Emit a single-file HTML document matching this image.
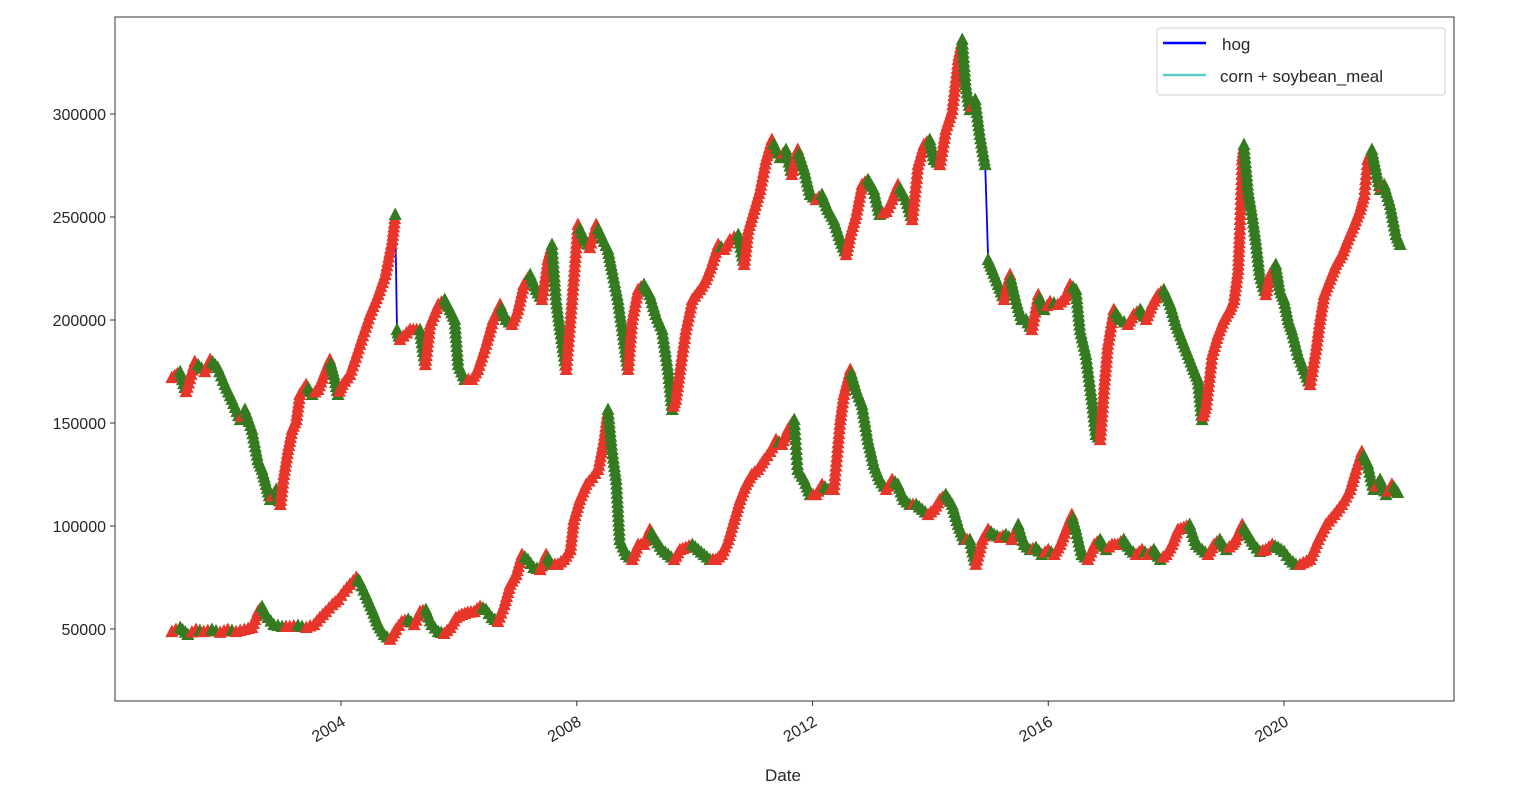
<!DOCTYPE html>
<html><head><meta charset="utf-8"><style>
html,body{margin:0;padding:0;background:#fff;}
svg text{font-family:"Liberation Sans","DejaVu Sans",sans-serif;fill:#262626;}
</style></head><body>
<svg id="chart" width="1530" height="788" xmlns="http://www.w3.org/2000/svg">
<rect x="115" y="17" width="1339" height="684" fill="#fff" stroke="#333" stroke-width="1"/>
<g id="yticks"></g>
<g id="xticks"></g>
<g id="series"></g>
<text x="783" y="781" font-size="17" text-anchor="middle">Date</text>
<g>
<rect x="1157" y="28" width="288" height="67" rx="3" fill="#fff" stroke="#d0d0d0"/>
<line x1="1163" y1="43" x2="1206" y2="43" stroke="#0000ff" stroke-width="2.5"/>
<text x="1222" y="50" font-size="17">hog</text>
<line x1="1163" y1="75" x2="1206" y2="75" stroke="#5ecbcb" stroke-width="2.5"/>
<text x="1220" y="82" font-size="17">corn + soybean_meal</text>
</g>
</svg>
<script>
const yTicks=[50000,100000,150000,200000,250000,300000];
const xTicks=[2004,2008,2012,2016,2020];
const hogDates=[2001.13,2001.27,2001.37,2001.52,2001.69,2001.78,2001.91,2002.03,2002.15,2002.29,2002.37,2002.49,2002.59,2002.66,2002.73,2002.80,2002.90,2002.97,2003.03,2003.10,2003.17,2003.24,2003.30,2003.41,2003.51,2003.61,2003.71,2003.81,2003.88,2003.95,2004.02,2004.15,2004.32,2004.49,2004.63,2004.75,2004.87,2004.92,2004.95,2005.00,2005.17,2005.34,2005.43,2005.51,2005.65,2005.76,2005.85,2005.93,2005.99,2006.10,2006.22,2006.32,2006.46,2006.58,2006.70,2006.80,2006.90,2007.00,2007.10,2007.21,2007.31,2007.41,2007.51,2007.58,2007.65,2007.72,2007.82,2007.92,2008.02,2008.12,2008.22,2008.33,2008.43,2008.53,2008.60,2008.70,2008.80,2008.87,2008.94,2009.04,2009.14,2009.24,2009.34,2009.45,2009.55,2009.62,2009.68,2009.75,2009.85,2009.96,2010.09,2010.19,2010.29,2010.40,2010.50,2010.60,2010.74,2010.84,2010.91,2011.01,2011.11,2011.21,2011.31,2011.45,2011.55,2011.65,2011.75,2011.86,2011.96,2012.06,2012.16,2012.26,2012.36,2012.47,2012.57,2012.64,2012.74,2012.84,2012.94,2013.04,2013.14,2013.25,2013.35,2013.45,2013.59,2013.69,2013.79,2013.89,2013.99,2014.06,2014.16,2014.26,2014.37,2014.47,2014.54,2014.60,2014.67,2014.76,2014.84,2014.93,2014.98,2015.05,2015.15,2015.25,2015.35,2015.45,2015.55,2015.62,2015.72,2015.83,2015.93,2016.03,2016.16,2016.27,2016.37,2016.47,2016.54,2016.64,2016.74,2016.81,2016.88,2016.95,2017.01,2017.11,2017.22,2017.35,2017.45,2017.56,2017.66,2017.76,2017.86,2017.96,2018.07,2018.17,2018.27,2018.37,2018.47,2018.54,2018.61,2018.68,2018.78,2018.88,2018.98,2019.08,2019.15,2019.22,2019.25,2019.29,2019.32,2019.39,2019.46,2019.52,2019.59,2019.69,2019.76,2019.86,2019.93,2020.00,2020.07,2020.13,2020.24,2020.34,2020.44,2020.54,2020.61,2020.68,2020.78,2020.88,2020.98,2021.08,2021.19,2021.29,2021.36,2021.42,2021.49,2021.56,2021.63,2021.70,2021.80,2021.90,2021.97];
const hogValues=[171.8,174.7,165.0,179.6,174.7,180.6,176.7,168.4,161.2,151.4,156.3,146.6,132.0,127.2,119.9,112.6,117.5,110.2,124.7,136.9,146.6,151.4,163.6,168.4,163.6,166.0,173.3,180.6,173.3,163.6,168.4,173.3,187.9,202.4,212.1,221.8,238.8,251.0,195.1,190.3,195.1,195.1,178.1,197.6,207.3,209.7,204.8,200.0,178.1,170.9,170.9,175.7,187.9,200.0,207.3,200.0,197.6,204.8,217.0,221.8,214.5,209.7,229.1,236.4,209.7,195.1,175.7,209.7,246.1,239.8,234.9,246.1,239.8,234.0,224.3,209.7,190.3,175.7,200.0,214.5,217.0,212.1,202.4,195.1,175.7,156.3,161.2,175.7,195.1,209.7,214.5,219.4,226.7,236.4,234.0,238.8,241.2,226.7,243.7,253.4,263.1,277.6,287.4,278.6,282.5,270.4,282.5,272.8,260.7,258.2,260.7,253.4,248.5,238.8,231.5,241.2,251.0,265.5,267.9,263.1,251.0,252.4,258.2,265.5,258.2,248.5,275.2,284.9,287.4,277.6,275.2,292.2,301.9,326.2,335.9,314.1,301.9,306.8,289.8,275.2,229.1,224.3,217.0,209.7,221.8,209.7,200.0,200.0,195.1,212.1,204.8,208.7,207.3,209.7,217.0,214.5,195.1,183.0,161.2,144.2,141.7,168.4,187.9,204.8,200.0,197.6,202.4,204.8,200.0,207.3,212.1,214.5,207.3,197.6,190.3,183.0,175.7,170.9,151.4,158.7,183.0,192.7,200.0,204.8,209.7,224.3,243.7,277.6,284.9,263.1,251.0,238.8,221.8,212.1,221.8,226.7,214.5,209.7,200.0,195.1,183.0,175.7,168.4,185.4,200.0,212.1,219.4,226.7,231.5,238.8,246.1,253.4,260.7,277.6,282.5,272.8,263.1,265.5,255.8,241.2,236.4];
const feedDates=[2001.13,2001.27,2001.40,2001.54,2001.67,2001.81,2001.95,2002.08,2002.22,2002.36,2002.49,2002.59,2002.66,2002.76,2002.86,2003.00,2003.13,2003.27,2003.41,2003.54,2003.64,2003.74,2003.85,2003.95,2004.05,2004.15,2004.26,2004.32,2004.42,2004.53,2004.63,2004.73,2004.83,2004.93,2005.03,2005.14,2005.24,2005.34,2005.44,2005.54,2005.65,2005.75,2005.85,2005.95,2006.05,2006.15,2006.26,2006.36,2006.46,2006.56,2006.66,2006.77,2006.87,2006.97,2007.07,2007.17,2007.27,2007.38,2007.48,2007.58,2007.68,2007.78,2007.89,2007.95,2008.05,2008.16,2008.26,2008.36,2008.46,2008.53,2008.60,2008.67,2008.73,2008.84,2008.94,2009.04,2009.14,2009.24,2009.34,2009.45,2009.55,2009.65,2009.75,2009.85,2009.96,2010.06,2010.16,2010.26,2010.36,2010.46,2010.57,2010.67,2010.77,2010.87,2010.97,2011.07,2011.18,2011.28,2011.38,2011.48,2011.58,2011.69,2011.75,2011.86,2011.96,2012.06,2012.16,2012.26,2012.36,2012.47,2012.53,2012.64,2012.74,2012.84,2012.94,2013.04,2013.14,2013.25,2013.35,2013.45,2013.55,2013.65,2013.76,2013.86,2013.96,2014.06,2014.16,2014.26,2014.37,2014.47,2014.57,2014.67,2014.77,2014.88,2014.98,2015.08,2015.18,2015.28,2015.38,2015.49,2015.59,2015.69,2015.79,2015.89,2016.00,2016.10,2016.20,2016.30,2016.40,2016.47,2016.57,2016.67,2016.78,2016.88,2016.98,2017.08,2017.18,2017.28,2017.39,2017.49,2017.59,2017.69,2017.79,2017.90,2018.00,2018.10,2018.20,2018.30,2018.40,2018.51,2018.61,2018.71,2018.81,2018.91,2019.02,2019.12,2019.18,2019.29,2019.39,2019.49,2019.59,2019.69,2019.80,2019.90,2020.00,2020.10,2020.20,2020.27,2020.44,2020.58,2020.71,2020.85,2020.98,2021.12,2021.22,2021.32,2021.42,2021.52,2021.63,2021.73,2021.83,2021.93];
const feedValues=[48.5,50.5,47.1,49.5,48.5,49.5,48.1,49.5,48.5,49.5,50.5,58.2,60.7,55.3,51.9,51.0,51.0,51.5,50.5,51.9,55.3,58.2,61.6,64.1,68.0,71.4,74.8,72.8,66.5,59.2,51.9,47.1,44.7,49.5,53.4,54.4,51.9,58.2,59.2,51.9,48.5,47.6,50.5,55.3,56.8,57.8,58.2,60.7,59.2,55.3,53.4,61.6,71.4,76.2,85.9,83.5,79.6,78.6,85.9,81.1,81.1,83.5,88.3,102.9,112.6,119.9,123.3,127.2,141.7,156.3,136.9,122.3,93.2,85.9,83.5,90.8,90.8,98.1,93.2,88.3,85.9,83.5,88.3,89.3,90.8,88.3,85.9,83.5,83.5,85.9,93.2,102.9,112.6,119.9,124.7,127.2,132.0,135.9,141.7,139.3,146.6,151.4,127.2,122.3,115.0,115.0,119.9,117.5,117.5,151.4,163.6,175.7,166.0,158.7,141.7,129.6,122.3,117.5,122.3,119.9,112.6,110.2,110.2,107.8,105.3,107.8,112.6,115.0,110.2,100.5,93.2,93.2,81.1,93.2,98.1,95.6,94.2,95.6,93.2,100.5,90.8,88.3,89.3,85.9,88.3,85.9,90.8,98.1,105.3,98.1,85.9,83.5,90.8,93.2,88.3,90.8,90.8,93.2,88.3,85.9,88.3,85.9,88.3,83.5,85.9,90.8,98.1,99.0,100.5,90.8,88.3,85.9,90.8,93.2,88.3,90.8,93.2,100.5,95.6,90.8,87.4,88.3,90.8,89.3,87.4,83.5,81.1,81.1,83.5,93.2,100.5,105.3,110.2,117.5,127.2,135.9,130.0,117.5,122.3,115.0,120.0,116.0];

const NS='http://www.w3.org/2000/svg';
const L=115,R=1454,T=17,B=701;
function xs(yr){return 341+(yr-2004)*58.94;}
function ys(v){return 732-v/50000*103;}
function mk(tag,attrs,parent){const e=document.createElementNS(NS,tag);for(const k in attrs)e.setAttribute(k,attrs[k]);parent.appendChild(e);return e;}
const yg=document.getElementById('yticks');
yTicks.forEach(v=>{
  const y=ys(v);
  const tl=mk('line',{x1:L-5,x2:L,y1:y,y2:y,stroke:'#333'},yg);
  
  
  const t=mk('text',{x:L-9,y:y+6,'font-size':'16','text-anchor':'end'},yg);
  
  
  t.textContent=v;
});
const xg=document.getElementById('xticks');
xTicks.forEach(yr=>{
  const x=xs(yr);
  const tl=mk('line',{x1:x,x2:x,y1:B,y2:B+5,stroke:'#333'},xg);
  
  
  const t=mk('text',{x:x,y:B+14,'font-size':'16','text-anchor':'end',transform:`rotate(-30 ${x} ${B+14})`,dy:'0.7em'},xg);
  
  
  t.textContent=yr;
});
const sg=document.getElementById('series');
function drawLine(dates,vals,color,name){
  const d=dates.map((yr,i)=>(i?'L':'M')+xs(yr).toFixed(1)+','+ys(vals[i]*1000).toFixed(1)).join('');
  const p=mk('path',{d:d,fill:'none',stroke:color,'stroke-width':'1.8'},sg);
  
  
}
function tri(x,y,col,name){
  const t=mk('polygon',{points:`${x},${y-7.5} ${x-6.5},${y+5} ${x+6.5},${y+5}`,fill:col},sg);
  
  
}
function drawMarkers(dates,vals,name){
  const n=vals.length;
  for(let i=0;i<n;i++){
    const prev=vals[Math.max(0,i-1)],next=vals[Math.min(n-1,i+1)];
    const col=next>=prev?'#e8352a':'#357a20';
    const x=xs(dates[i]),y=ys(vals[i]*1000);
    tri(x,y,col,name);
    if(i<n-1){
      const x2=xs(dates[i+1]),y2=ys(vals[i+1]*1000);
      const rising=vals[i+1]>=vals[i];
      const segCol=rising?'#e8352a':'#357a20';
      const steps=Math.max(1,Math.ceil(Math.hypot(x2-x,y2-y)/5));
      if(rising||Math.abs(y2-y)<60){
        for(let s=1;s<steps;s++){const f=s/steps;tri(x+(x2-x)*f,y+(y2-y)*f,segCol,name);}
      }
    }
  }
}
drawLine(hogDates,hogValues,'#0000ff','hog-line');
drawLine(feedDates,feedValues,'#5ecbcb','feed-line');
drawMarkers(hogDates,hogValues,'hog-marker');
drawMarkers(feedDates,feedValues,'feed-marker');
</script>
</body></html>
